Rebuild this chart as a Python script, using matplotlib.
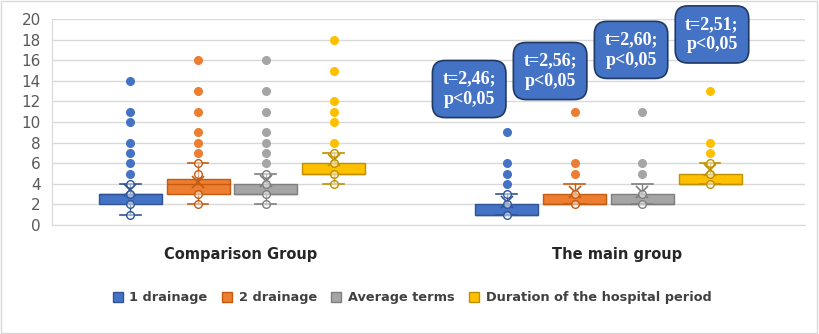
import matplotlib.pyplot as plt
from matplotlib.patches import Patch, Rectangle

# groups and series
groups = ['Comparison Group', 'The main group']
series = ['1 drainage', '2 drainage', 'Average terms', 'Duration of the hospital period']
colors = ['#4472C4', '#ED7D31', '#A5A5A5', '#FFC000']
edges = ['#2F5597', '#C55A11', '#7F7F7F', '#BF9000']

# box statistics, one list per group (order follows series)
q1 = [[2, 3, 3, 5], [1, 2, 2, 4]]
q3 = [[3, 4.5, 4, 6], [2, 3, 3, 5]]
med = [[3, 4, 3, 5], [1, 2, 2, 4]]
whislo = [[1, 2, 2, 4], [1, 2, 2, 4]]
whishi = [[4, 6, 5, 7], [3, 4, 4, 6]]
means = [[3.4, 4.2, 4.3, 6.3], [2.2, 3.2, 3.2, 5.3]]

# visible points of each series
points = [
    [[1, 2, 3, 4, 5, 6, 7, 8, 10, 11, 14],
     [2, 3, 5, 6, 7, 8, 9, 11, 13, 16],
     [2, 3, 4, 5, 6, 7, 8, 9, 11, 13, 16],
     [4, 5, 6, 7, 8, 10, 11, 12, 15, 18]],
    [[1, 2, 3, 4, 5, 6, 9],
     [2, 3, 5, 6, 11],
     [2, 3, 5, 6, 11],
     [4, 5, 6, 7, 8, 13]],
]

# t-test annotations above the main group
notes = ['t=2,46;\np<0,05', 't=2,56;\np<0,05', 't=2,60;\np<0,05', 't=2,51;\np<0,05']
note_y = [13.2, 14.95, 17.0, 18.5]

fig = plt.figure(figsize=(8.19, 3.34), dpi=100)
fig.patches.append(Rectangle((0.001, 0.003), 0.997, 0.994, transform=fig.transFigure,
                             fill=False, edgecolor='#D9D9D9', linewidth=1))
ax = fig.add_axes([52 / 819, (334 - 225) / 334, 753 / 819, 206 / 334])

width = 0.167
step = 0.18
for g in range(2):
    for s in range(4):
        pos = g + 0.5 + (s - 1.5) * step - 0.022
        stats = [dict(q1=q1[g][s], q3=q3[g][s], med=med[g][s], whislo=whislo[g][s],
                      whishi=whishi[g][s], mean=means[g][s], fliers=[])]
        ax.bxp(stats, positions=[pos], widths=width, capwidths=0.055, patch_artist=True,
               showmeans=True, showfliers=False,
               boxprops=dict(facecolor=colors[s], edgecolor=edges[s], linewidth=1),
               medianprops=dict(color=edges[s], linewidth=1),
               whiskerprops=dict(color=edges[s], linewidth=1),
               capprops=dict(color=edges[s], linewidth=1.2),
               meanprops=dict(marker='x', markeredgecolor=edges[s], markersize=8,
                              markeredgewidth=1.2), zorder=2)
        for v in points[g][s]:
            inner = whislo[g][s] <= v <= whishi[g][s]
            ax.plot(pos, v, 'o', markersize=5.5, zorder=3,
                    markerfacecolor=(colors[s] if not inner else '#FFFFFF80'),
                    markeredgecolor=(colors[s] if not inner else edges[s]),
                    markeredgewidth=1)

for i, txt in enumerate(notes):
    ax.text(1.108 + i * 0.215, note_y[i], txt, ha='center', va='center', color='white',
            fontsize=13, fontweight='bold', family='Liberation Serif', linespacing=1.25,
            zorder=5,
            bbox=dict(boxstyle='round,pad=0.55,rounding_size=0.7', facecolor='#4472C4',
                      edgecolor='#203864', linewidth=1.2))

ax.set_xlim(0, 2)
ax.set_ylim(0, 20)
ax.set_yticks(range(0, 21, 2))
ax.set_xticks([0.5, 1.5])
ax.set_xticklabels(groups, fontsize=10.5, fontweight='bold', color='#262626')
ax.tick_params(axis='x', length=0, pad=16)
ax.tick_params(axis='y', length=0, pad=8, labelsize=11, labelcolor='#595959')
ax.grid(axis='y', color='#D9D9D9', linewidth=1)
ax.set_axisbelow(True)
for sp in ['top', 'right']:
    ax.spines[sp].set_visible(False)
ax.spines['left'].set_color('#D9D9D9')
ax.spines['bottom'].set_color('#D9D9D9')

handles = [Patch(facecolor=c, edgecolor=e, label=l) for c, e, l in zip(colors, edges, series)]
fig.legend(handles=handles, loc='center', bbox_to_anchor=(0.503, 0.108), ncol=4,
           frameon=False, handlelength=0.8, handleheight=0.8, handletextpad=0.5,
           columnspacing=1.1, prop=dict(size=9.3, weight='bold'), labelcolor='#404040')

fig.savefig('out.png', dpi=100)
